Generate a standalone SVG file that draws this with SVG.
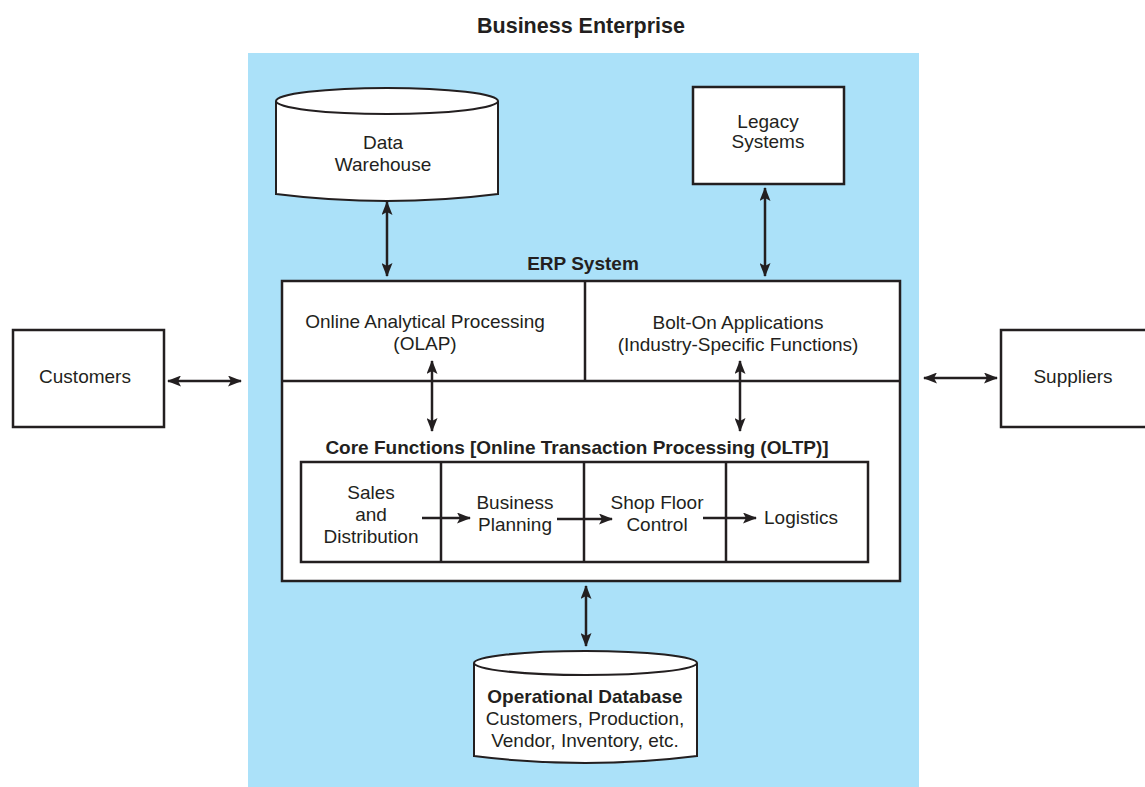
<svg xmlns="http://www.w3.org/2000/svg" width="1145" height="787" viewBox="0 0 1145 787">
<defs>
<marker id="ah" viewBox="0 0 14 11" refX="13" refY="5.5" markerWidth="14" markerHeight="11" markerUnits="userSpaceOnUse" orient="auto-start-reverse">
<path d="M0,0 L14,5.5 L0,11 L3,5.5 z" fill="#231f20"/>
</marker>
<style>
.t{font-family:"Liberation Sans",Arial,sans-serif;font-size:19px;fill:#231f20;text-anchor:middle}
.b{font-weight:bold}
.box{fill:#fff;stroke:#231f20;stroke-width:2.5}
.cyl{fill:#fff;stroke:#231f20;stroke-width:2}
.ln{fill:none;stroke:#231f20;stroke-width:2.5}
.c{fill:none;stroke:#231f20;stroke-width:2.5}
</style>
</defs>
<rect width="1145" height="787" fill="#fff"/>
<rect x="248" y="53" width="671" height="734" fill="#abe1f9"/>
<text class="t b" x="581" y="33" style="font-size:21.5px">Business Enterprise</text>

<g id="customers">
<rect class="box" x="13" y="330" width="151" height="97"/>
<text class="t" x="85" y="383">Customers</text>
</g>
<g id="suppliers">
<rect class="box" x="1001" y="330" width="150" height="97"/>
<text class="t" x="1073" y="383">Suppliers</text>
</g>

<g id="data-warehouse">
<path class="cyl" d="M276,101 L276,194 Q387,208 498,194 L498,101"/>
<ellipse class="cyl" cx="387" cy="101" rx="111" ry="13"/>
<text class="t" x="383" y="149">Data</text>
<text class="t" x="383" y="171">Warehouse</text>
</g>

<g id="legacy-systems">
<rect class="box" x="693" y="87" width="151" height="97"/>
<text class="t" x="768" y="128">Legacy</text>
<text class="t" x="768" y="148">Systems</text>
</g>

<g id="erp-system">
<text class="t b" x="583" y="270">ERP System</text>
<rect class="box" x="282" y="281" width="618" height="300"/>
<line class="c" x1="282" y1="381" x2="900" y2="381"/>
<line class="c" x1="585" y1="281" x2="585" y2="381"/>
</g>
<g id="olap">
<text class="t" x="425" y="328">Online Analytical Processing</text>
<text class="t" x="425" y="350">(OLAP)</text>
</g>
<g id="bolt-on">
<text class="t" x="738" y="329">Bolt-On Applications</text>
<text class="t" x="738" y="351">(Industry-Specific Functions)</text>
</g>
<g id="core-functions">
<text class="t b" x="577" y="454">Core Functions [Online Transaction Processing (OLTP)]</text>
<rect class="box" x="301" y="462" width="567" height="100"/>
</g>
<g id="sales">
<line class="c" x1="441" y1="462" x2="441" y2="562"/>
<text class="t" x="371" y="499">Sales</text>
<text class="t" x="371" y="521">and</text>
<text class="t" x="371" y="543">Distribution</text>
</g>
<g id="business-planning">
<line class="c" x1="584" y1="462" x2="584" y2="562"/>
<text class="t" x="515" y="509">Business</text>
<text class="t" x="515" y="531">Planning</text>
</g>
<g id="shop-floor">
<line class="c" x1="726" y1="462" x2="726" y2="562"/>
<text class="t" x="657" y="509">Shop Floor</text>
<text class="t" x="657" y="531">Control</text>
</g>
<g id="logistics">
<text class="t" x="801" y="524">Logistics</text>
</g>

<g id="operational-database">
<path class="cyl" d="M474,663 L474,756 Q585,770 697,756 L697,663"/>
<ellipse class="cyl" cx="585.5" cy="663" rx="111.5" ry="12"/>
<text class="t b" x="585" y="703">Operational Database</text>
<text class="t" x="585" y="725">Customers, Production,</text>
<text class="t" x="585" y="747">Vendor, Inventory, etc.</text>
</g>

<g id="connectors">
<line class="ln" x1="168" y1="381" x2="241" y2="381" marker-start="url(#ah)" marker-end="url(#ah)"/>
<line class="ln" x1="924" y1="378" x2="997" y2="378" marker-start="url(#ah)" marker-end="url(#ah)"/>
<line class="ln" x1="387" y1="202" x2="387" y2="276" marker-start="url(#ah)" marker-end="url(#ah)"/>
<line class="ln" x1="765" y1="188" x2="765" y2="276" marker-start="url(#ah)" marker-end="url(#ah)"/>
<line class="ln" x1="432" y1="361" x2="432" y2="431" marker-start="url(#ah)" marker-end="url(#ah)"/>
<line class="ln" x1="740" y1="361" x2="740" y2="431" marker-start="url(#ah)" marker-end="url(#ah)"/>
<line class="ln" x1="586" y1="586" x2="586" y2="646" marker-start="url(#ah)" marker-end="url(#ah)"/>
<line class="ln" x1="422" y1="518" x2="470" y2="518" marker-end="url(#ah)"/>
<line class="ln" x1="557" y1="519" x2="612" y2="519" marker-end="url(#ah)"/>
<line class="ln" x1="703" y1="518" x2="756" y2="518" marker-end="url(#ah)"/>
</g>
</svg>
